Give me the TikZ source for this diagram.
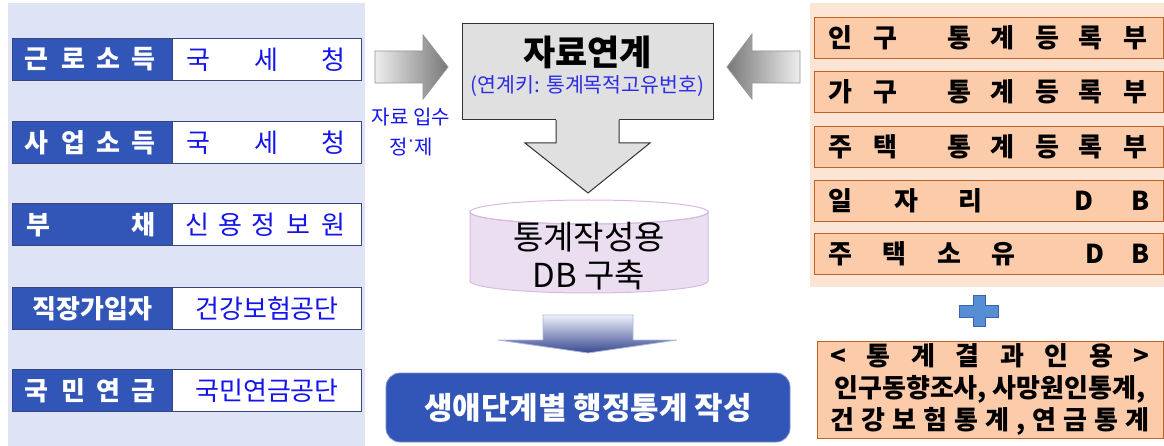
\documentclass[tikz,border=0pt]{standalone}
\usepackage{fontspec}
\setmainfont{Noto Sans CJK KR}
\newfontfamily\dotfont{Liberation Sans}
\definecolor{leftbg}{RGB}{222,228,246}
\definecolor{darkblue}{RGB}{50,86,184}
\definecolor{navyline}{RGB}{55,70,125}
\definecolor{srcblue}{RGB}{20,20,235}
\definecolor{subblue}{RGB}{45,45,230}
\definecolor{boxgray}{RGB}{224,224,224}
\definecolor{boxline}{RGB}{50,50,50}
\definecolor{cylfill}{RGB}{235,222,241}
\definecolor{cylline}{RGB}{214,186,226}
\definecolor{rightbg}{RGB}{253,229,214}
\definecolor{rowfill}{RGB}{251,203,170}
\definecolor{rowline}{RGB}{192,98,40}
\definecolor{plusfill}{RGB}{85,142,213}
\definecolor{plusline}{RGB}{60,100,170}
\definecolor{arrlight}{RGB}{238,238,238}
\definecolor{arrdark}{RGB}{120,120,120}
\definecolor{garrtop}{RGB}{238,241,250}
\definecolor{garrbot}{RGB}{55,72,145}
\definecolor{garrline}{RGB}{170,182,225}
\newcommand\putch[2]{\rlap{\hspace*{#1pt}\makebox[0pt]{#2}}}
\newcommand\fsz[1]{\fontsize{#1pt}{#1pt}\selectfont}
\begin{document}
\begin{tikzpicture}[x=1pt,y=-1pt,
  lab/.style={fill=darkblue, draw=navyline, line width=1pt, minimum height=42pt, inner sep=0pt, text=white, font=\fsz{26}\bfseries, anchor=north west},
  src/.style={fill=white, draw=navyline, line width=1pt, minimum height=42pt, inner sep=0pt, text=srcblue, font=\fsz{26}, anchor=north west},
  regrow/.style={fill=rowfill, draw=rowline, line width=1pt, minimum height=41pt, inner sep=0pt, font=\fsz{26}\bfseries, anchor=north west},
  grayarrow/.style={draw=arrdark!80, line width=0.8pt},
]
\useasboundingbox (0,0) rectangle (1164,446);
% backgrounds
\fill[leftbg] (8,3) rectangle (365,446);
\fill[rightbg] (810,3) rectangle (1164,287);

% left source rows
\node[lab] (l1) at (12,38) {\makebox[160pt][l]{\putch{24}{근}\putch{61}{로}\putch{96}{소}\putch{131}{득}}};
\node[src] (s1) at (172,38) {\makebox[189pt][l]{\putch{26}{국}\putch{94}{세}\putch{161}{청}}};
\node[lab] (l2) at (12,121) {\makebox[160pt][l]{\putch{24}{사}\putch{61}{업}\putch{96}{소}\putch{131}{득}}};
\node[src] (s2) at (172,121) {\makebox[189pt][l]{\putch{26}{국}\putch{94}{세}\putch{161}{청}}};
\node[lab] (l3) at (12,203) {\makebox[160pt][l]{\putch{26}{부}\putch{131}{채}}};
\node[src] (s3) at (172,203) {\makebox[189pt][l]{\putch{25}{신}\putch{58}{용}\putch{91}{정}\putch{126}{보}\putch{161}{원}}};
\node[lab] (l4) at (12,287) {\makebox[160pt]{직장가입자}};
\node[src] (s4) at (172,287) {\makebox[189pt]{건강보험공단}};
\node[lab] (l5) at (12,369) {\makebox[160pt][l]{\putch{24}{국}\putch{61}{민}\putch{96}{연}\putch{131}{금}}};
\node[src] (s5) at (172,369) {\makebox[189pt]{국민연금공단}};

% right register rows
\node[regrow] (r1) at (814,17) {\makebox[349pt][l]{\putch{26}{인}\putch{71}{구}\putch{145}{통}\putch{188}{계}\putch{233}{등}\putch{276}{록}\putch{321}{부}}};
\node[regrow] (r2) at (814,71) {\makebox[349pt][l]{\putch{26}{가}\putch{71}{구}\putch{145}{통}\putch{188}{계}\putch{233}{등}\putch{276}{록}\putch{321}{부}}};
\node[regrow] (r3) at (814,126) {\makebox[349pt][l]{\putch{26}{주}\putch{71}{택}\putch{145}{통}\putch{188}{계}\putch{233}{등}\putch{276}{록}\putch{321}{부}}};
\node[regrow] (r4) at (814,180) {\makebox[349pt][l]{\putch{26}{일}\putch{92}{자}\putch{156}{리}\putch{269}{D}\putch{326}{B}}};
\node[regrow] (r5) at (814,233) {\makebox[349pt][l]{\putch{26}{주}\putch{80}{택}\putch{135}{소}\putch{189}{유}\putch{280}{D}\putch{326}{B}}};

% plus sign
\path[fill=plusfill, draw=plusline, line width=0.8pt] (973,295) -- (985,295) -- (985,305) -- (998,305) -- (998,317) -- (985,317) -- (985,326) -- (973,326) -- (973,317) -- (959,317) -- (959,305) -- (973,305) -- cycle;

% citation box
\node[fill=rowfill, draw=rowline, line width=1pt, minimum width=346pt, minimum height=97pt, inner sep=0pt, align=center, font=\fontsize{26pt}{32pt}\selectfont\bfseries] (cite) at (990,389.5)
 {\makebox[319pt]{<\hfill 통\hfill 계\hfill 결\hfill 과\hfill 인\hfill 용\hfill >}\\
  인구동향조사, 사망원인통계,\\
  \makebox[319pt]{건\hfill 강\hfill 보\hfill 험\hfill 통\hfill 계\hfill ,\hfill 연\hfill 금\hfill 통\hfill 계}};

% centre linkage box
\node[fill=boxgray, draw=boxline, line width=1pt, minimum width=251pt, minimum height=96pt, inner sep=0pt] (link) at (587.5,72) {};
\node[font=\fsz{35}\bfseries, inner sep=0pt] (linktitle) at (587.5,52) {자료연계};
\node[font=\fsz{20.5}, text=subblue, inner sep=0pt] (linkkey) at (587.5,86) {(연계키: 통계목적고유번호)};
% down arrow from link box
\fill[boxgray] (556,119) -- (619,119) -- (619,143) -- (650,143) -- (588,193) -- (525,143) -- (556,143) -- cycle;
\draw[boxline, line width=1pt] (556,120) -- (556,143) -- (525,143) -- (588,193) -- (650,143) -- (619,143) -- (619,120);

% input arrows
\shadedraw[left color=arrlight, right color=arrdark, grayarrow] (375,51) -- (423,51) -- (423,35) -- (448,67) -- (423,99) -- (423,83) -- (375,83) -- cycle;
\shadedraw[left color=arrdark, right color=arrlight, grayarrow] (800,51) -- (752,51) -- (752,34) -- (727,67) -- (752,99) -- (752,83) -- (800,83) -- cycle;
\node[text=srcblue, align=center, font=\fontsize{20pt}{30pt}\selectfont, inner sep=0pt] (clean) at (411,132) {자료 입수\\정{\dotfont\raisebox{0.4em}{·}}제};

% DB cylinder
\path[fill=cylfill, draw=cylline, line width=1pt] (470,212) -- (470,281) arc[start angle=180, end angle=0, x radius=119, y radius=12] -- (708,212) arc[start angle=0, end angle=180, x radius=119, y radius=12] -- cycle;
\draw[cylline, line width=1pt] (589,212) ellipse[x radius=119, y radius=12];
\node[align=center, font=\fontsize{33pt}{38pt}\selectfont, inner sep=0pt] (db) at (589,256) {통계작성용\\DB 구축};

% gradient down arrow
\shadedraw[top color=garrtop, bottom color=garrbot, draw=garrline, line width=0.8pt] (543,315) -- (633,315) -- (633,340) -- (677,340) -- (588,353) -- (498,340) -- (543,340) -- cycle;

% output box
\node[fill=darkblue, draw=garrline!60!darkblue, line width=0.8pt, rounded corners=14pt, minimum width=404pt, minimum height=69pt, inner sep=0pt, text=white, font=\fsz{31}\bfseries] (out) at (588,407.5) {생애단계별 행정통계 작성};
\end{tikzpicture}
\end{document}
